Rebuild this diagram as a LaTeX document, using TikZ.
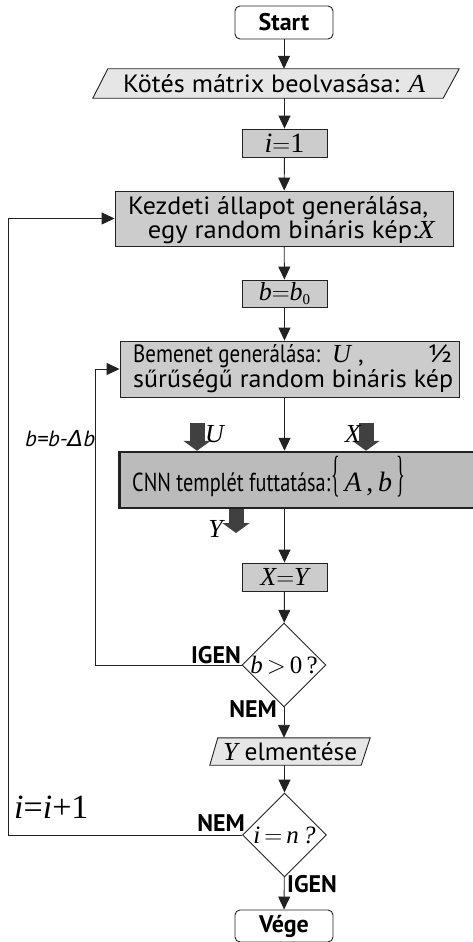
\documentclass[tikz,border=0pt]{standalone}
\usepackage{fontspec}
\usepackage{graphicx}
\setmainfont{PT Sans}
\newfontfamily\sr{Liberation Serif}
\newfontfamily\gk{DejaVu Sans}
\usetikzlibrary{arrows.meta,shapes.geometric,calc}

\definecolor{boxgray}{HTML}{CCCCCC}
\definecolor{iogray}{HTML}{E6E6E6}
\definecolor{cnngray}{HTML}{BBBBBB}
\definecolor{fatgray}{HTML}{404040}
\definecolor{linegray}{HTML}{222222}

% serif italic / upright pieces for the formulas
\newcommand\mi[1]{{\sr\itshape #1}}
\newcommand\mr[1]{{\sr #1}}
\newcommand\fs[1]{\fontsize{#1}{#1}\selectfont}
% set a line to a given width, keeping its height
\newcommand\fitw[2]{\resizebox{#1}{\height}{#2}}

\tikzset{
  flow/.style={draw=linegray, line width=0.9pt, -{Triangle[length=13pt,width=12pt]}},
  plain/.style={draw=linegray, line width=0.9pt},
  fat/.style={draw=fatgray, line width=15pt, -{Triangle[length=10pt,width=27pt]}},
  procbox/.style={draw=linegray, line width=0.9pt, fill=boxgray, inner sep=0pt},
  termbox/.style={draw=linegray, line width=0.9pt, fill=white, rounded corners=5pt,
                  inner sep=0pt, minimum width=98pt, font=\fs{24}\bfseries},
  iobox/.style={inner sep=0pt},
  decision/.style={shape=diamond, draw=linegray, line width=0.9pt, fill=white,
                   inner sep=0pt, minimum width=84pt, minimum height=84pt},
  lbl/.style={font=\fs{24}\bfseries, inner sep=0pt},
  txt/.style={font=\fs{25}, inner sep=0pt, text height=16pt, text depth=4pt},
}

\begin{document}
\begin{tikzpicture}[x=1pt, y=-1pt]
\useasboundingbox (0,0) rectangle (473,942);

% terminals
\node[termbox, minimum height=33pt] (start) at (284,22.5) {Start};
\node[termbox, minimum height=32pt] (end) at (284,926) {Vége};

% input/output shapes: the nodes fix the frame, the slanted outline is drawn from their corners
\node[iobox, minimum width=366pt, minimum height=29pt] (read) at (276,83.5) {};
\node[iobox, minimum width=160pt, minimum height=27pt] (save) at (290,751.5) {};
\filldraw[plain, fill=iogray] ($(read.north west)+(15,0)$) -- (read.north east) -- ($(read.south east)+(-16,0)$) -- (read.south west) -- cycle;
\filldraw[plain, fill=iogray] ($(save.north west)+(8,0)$) -- (save.north east) -- ($(save.south east)+(-9,0)$) -- (save.south west) -- cycle;
\node[txt, anchor=base west] (readtxt) at (123,92.5)
  {\fitw{302pt}{Kötés mátrix beolvasása: \mi{\fs{26}A}}};
\node[txt, anchor=base west] (savetxt) at (223,760)
  {\fitw{134pt}{\mi{\fs{26}Y} elmentése}};

% process boxes
\node[procbox, minimum width=85pt, minimum height=28pt, font=\fs{28}] (i1) at (284.5,143)
  {\mi{i}$=$\mr{1}};
\node[procbox, minimum width=338pt, minimum height=55pt] (init) at (284,218.5) {};
\node[txt, anchor=base west] (initl1) at (128,214)
  {\fitw{300pt}{Kezdeti állapot generálása,}};
\node[txt, anchor=base east, text height=14pt] (initl2) at (435,238)
  {\fitw{287pt}{egy random bináris kép:\mi{\fs{26}X}}};
\node[procbox, minimum width=85pt, minimum height=27pt, font=\fs{26}] (b0) at (284.5,293.5)
  {\mi{b}$=$\mi{b}\raisebox{-4pt}{\mr{\fs{15}0}}};
\node[procbox, minimum width=339pt, minimum height=56pt] (bem) at (289.5,369) {};
\node[txt, anchor=base west] (beml1) at (133,362)
  {\fitw{187pt}{Bemenet generálása:}};
\node[txt, anchor=base west] (bemu) at (332,362) {\mi{\fs{26}U}};
\node[txt, anchor=base west] (bemc) at (358,362) {,};
\node[txt, anchor=base east] (bemh) at (452,362) {\fitw{24pt}{½}};
\node[txt, anchor=base west, text height=14pt] (beml2) at (133,387)
  {\fitw{320pt}{sűrűségű random bináris kép}};
\node[procbox, fill=cnngray, line width=2.5pt, minimum width=362pt, minimum height=56pt,
      anchor=west] (cnn) at (118,480) {};
\node[txt, anchor=base west, font=\fs{26}] (cnntxt) at (132,491)
  {\fitw{198pt}{CNN templét futtatása:}};
\node[inner sep=0pt, anchor=base west, font=\fs{28}] (cnnset) at (331,491)
  {\raisebox{1pt}{\scalebox{0.7}[1.9]{\mr{\fs{26}\{}}}\,\mi{A}\,\mr{,}\,\mi{b}\,\raisebox{1pt}{\scalebox{0.7}[1.9]{\mr{\fs{26}\}}}}};
\node[procbox, minimum width=85pt, minimum height=28pt, font=\fs{26}] (xy) at (284.5,577)
  {\mi{X}$=$\mi{Y}};

% decisions
\node[decision] (d1) at (284,665)
  {\makebox[0pt]{\fs{25}\mi{b}$\,>\,$\mr{0\,?}}};
\node[decision] (d2) at (284.5,835)
  {\makebox[0pt]{\fs{25}\mi{i}$\,=\,$\mi{n\,?}}};

% main flow
\draw[flow] (start) -- (read.north -| start);
\draw[flow] (read.south -| i1) -- (i1);
\draw[flow] (i1) -- (init);
\draw[flow] (init) -- (b0);
\draw[flow] (b0) -- (bem.north -| b0);
\draw[flow] (bem.south -| b0) -- (cnn.north -| b0);
\draw[flow] (cnn.south -| xy) -- (xy);
\draw[flow] (xy) -- (d1);
\draw[flow] (d1) -- (save.north -| d1);
\draw[flow] (save.south -| d2) -- (d2);
\draw[flow] (d2) -- (end);

% loops back
\coordinate (fb1) at (95,0);
\coordinate (fb2) at (8,0);
\draw[flow] (d1.west) -- (d1.west -| fb1) |- (bem.west);
\draw[flow] (d2.west) -- (d2.west -| fb2) |- (init.west);

% image inputs and output of the template
\coordinate (uin) at (197,423);
\coordinate (xin) at (366,423);
\coordinate (yout) at (236,533);
\draw[fat] (uin) -- (cnn.north -| uin);
\draw[fat] (xin) -- (cnn.north -| xin);
\draw[fat] (cnn.south -| yout) -- (yout);
\node[anchor=base west, inner sep=0pt, font=\fs{26}] (ulbl) at (205,442) {\mi{U}};
\node[anchor=base east, inner sep=0pt, font=\fs{26}] (xlbl) at (361,442) {\mi{X}};
\node[anchor=base east, inner sep=0pt, font=\fs{26}] (ylbl) at (223,537) {\mi{Y}};

% branch labels
\node[lbl, anchor=base east] (yes1) at (241,663) {IGEN};
\node[lbl, anchor=base east] (no1) at (277,717) {NEM};
\node[lbl, anchor=base east] (no2) at (245,831) {NEM};
\node[lbl, anchor=base west] (yes2) at (287,892) {IGEN};

% loop updates
\node[anchor=base west, inner sep=0pt, font=\fs{22}\itshape] (bupd) at (25,446)
  {\fitw{70pt}{b=b-{\gk\itshape Δ}b}};
\node[anchor=base west, inner sep=0pt, font=\fs{34}] (iupd) at (14,818) {\mi{i}\mr{=}\mi{i}\mr{+}\mr{1}};
\end{tikzpicture}
\end{document}
